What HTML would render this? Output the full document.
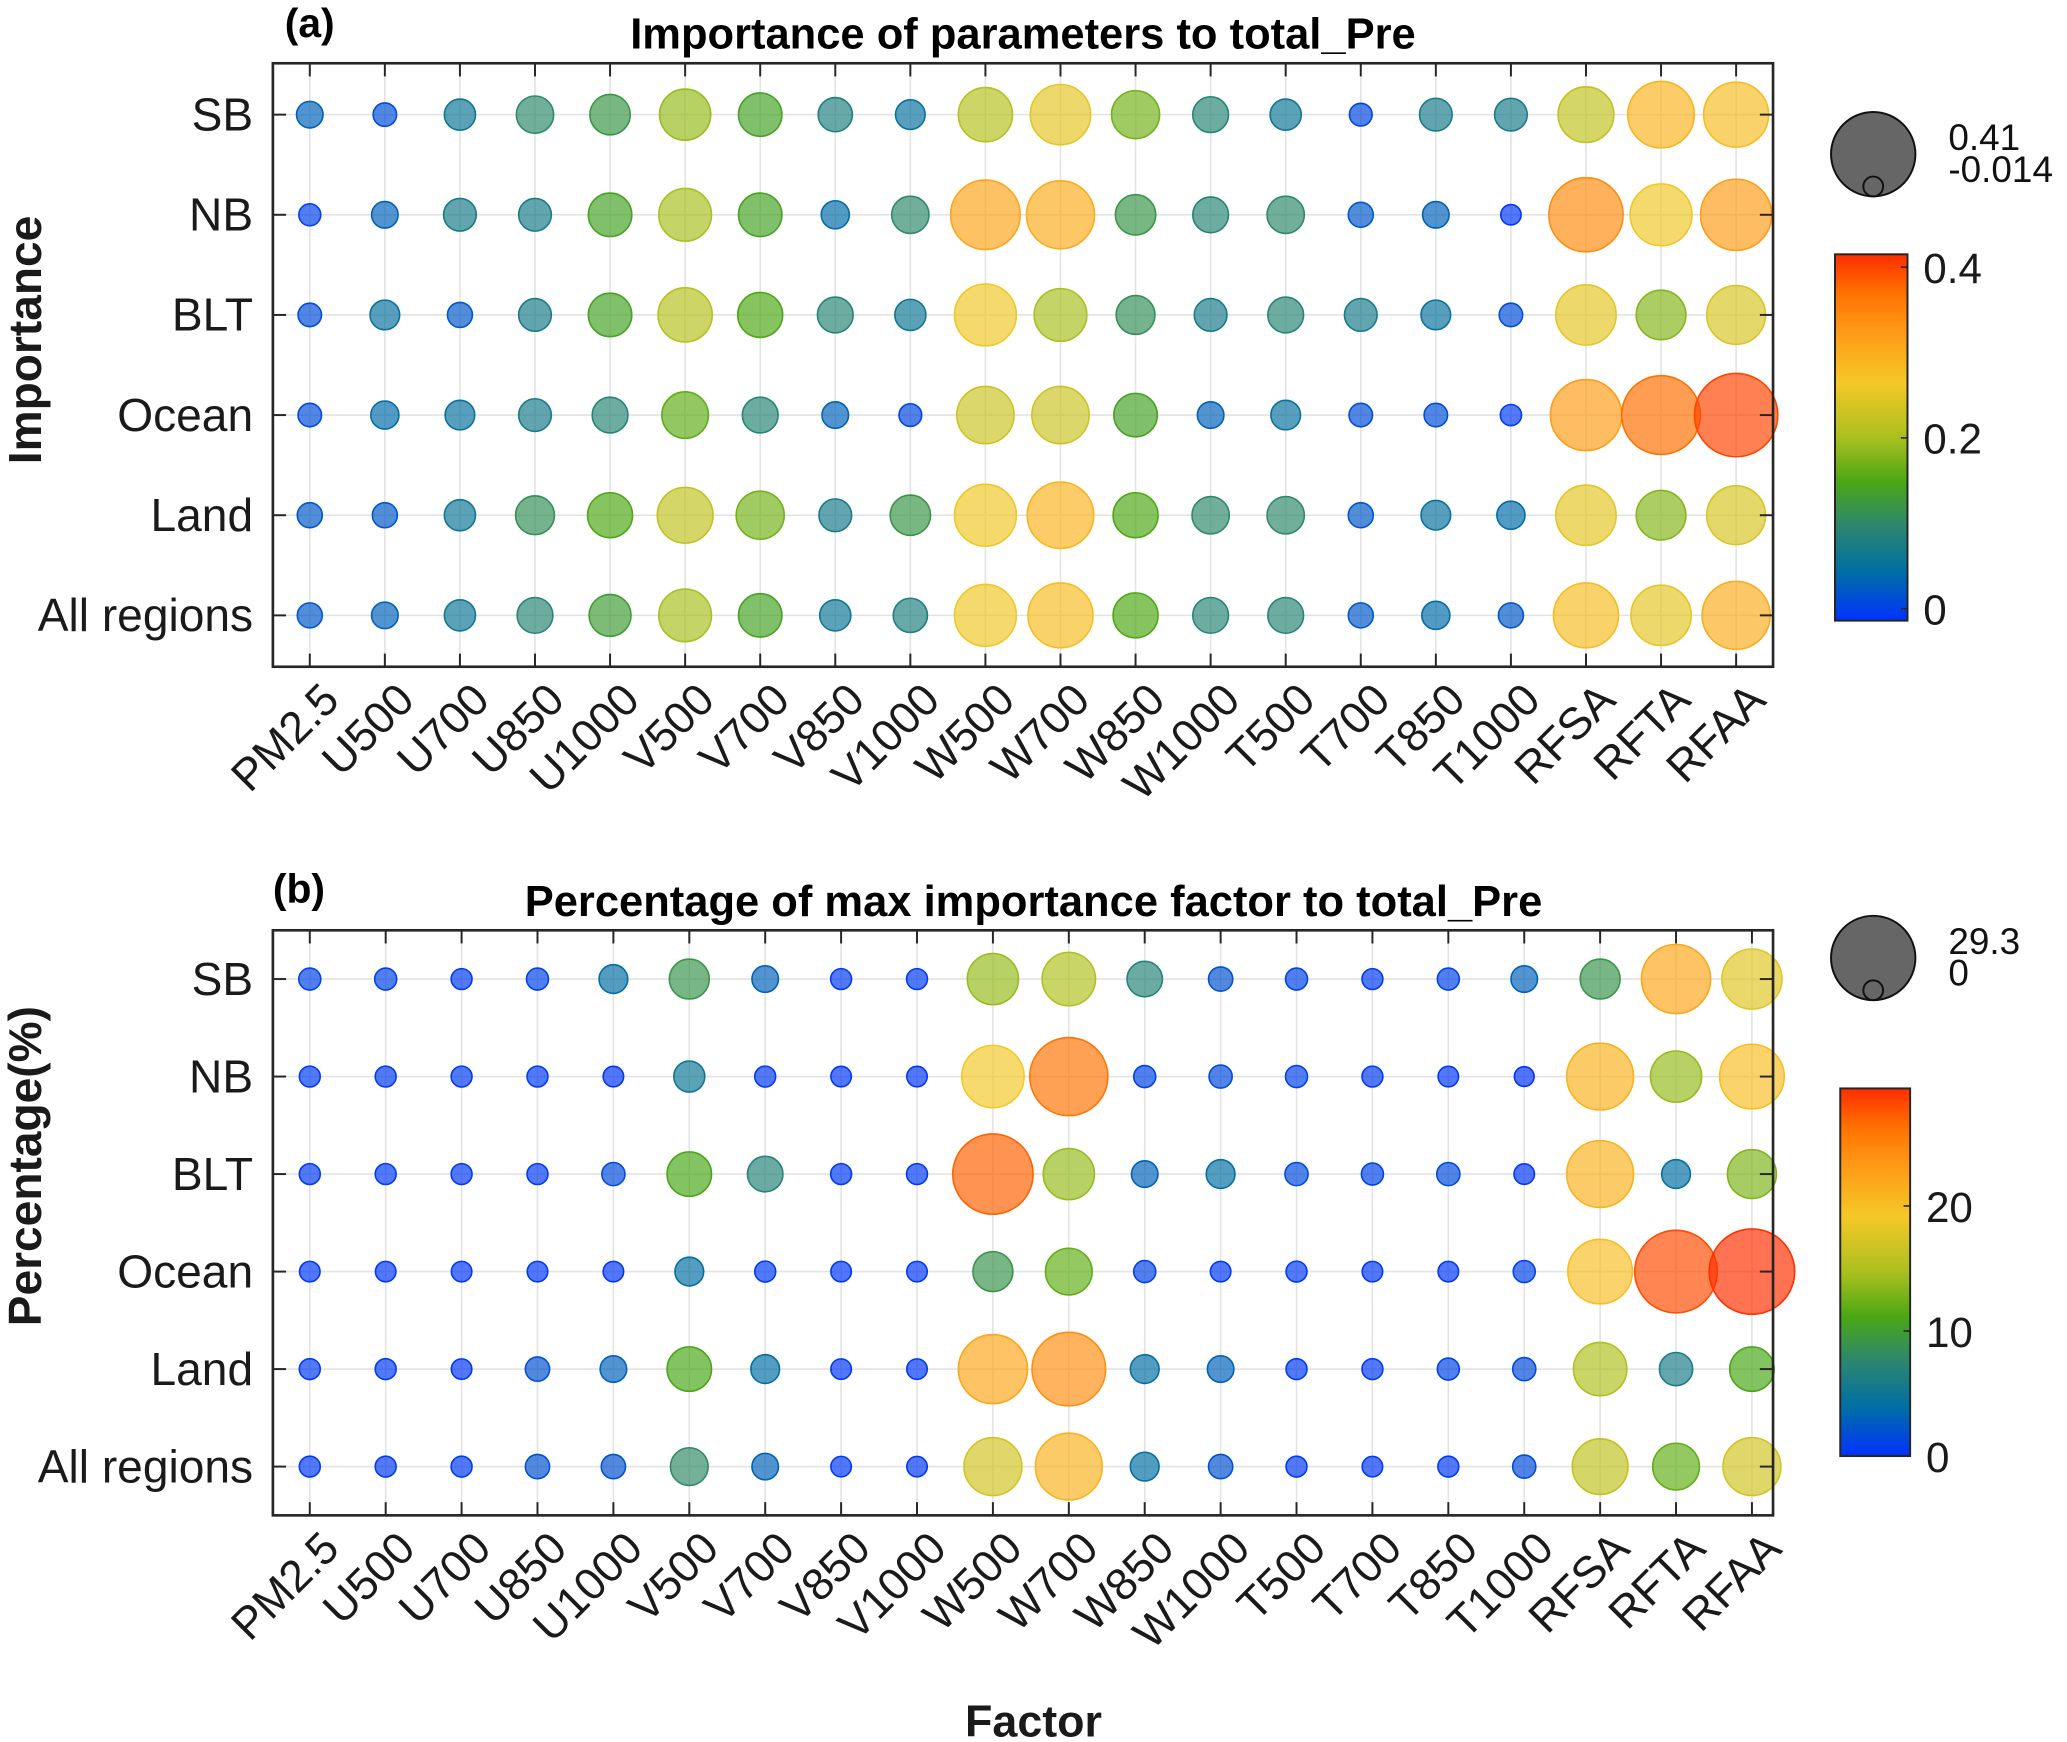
<!DOCTYPE html>
<html><head><meta charset="utf-8"><style>
html,body{margin:0;padding:0;background:#fff;}
svg{display:block;font-family:"Liberation Sans",Arial,sans-serif;}
</style></head><body>
<svg id="fig" width="2067" height="1742" viewBox="0 0 1568 1322" preserveAspectRatio="none" xmlns="http://www.w3.org/2000/svg">
<defs>
<linearGradient id="cmap" x1="0" y1="1" x2="0" y2="0">
<stop offset="0" stop-color="rgb(0,50,255)"/>
<stop offset="0.13" stop-color="rgb(0,110,165)"/>
<stop offset="0.26" stop-color="rgb(45,135,110)"/>
<stop offset="0.38" stop-color="rgb(75,168,20)"/>
<stop offset="0.5" stop-color="rgb(170,192,30)"/>
<stop offset="0.65" stop-color="rgb(245,200,40)"/>
<stop offset="0.8" stop-color="rgb(255,150,20)"/>
<stop offset="0.9" stop-color="rgb(255,110,0)"/>
<stop offset="1" stop-color="rgb(255,45,0)"/>
</linearGradient>
</defs>
</svg>
<script>
const factors=["PM2.5","U500","U700","U850","U1000","V500","V700","V850","V1000","W500","W700","W850","W1000","T500","T700","T850","T1000","RFSA","RFTA","RFAA"];
const regions=["SB","NB","BLT","Ocean","Land","All regions"];
const impSB=[0.03,0.01,0.06,0.1,0.12,0.19,0.14,0.08,0.05,0.21,0.25,0.17,0.09,0.06,0.005,0.07,0.07,0.22,0.29,0.28];
const impNB=[0.0,0.03,0.07,0.07,0.14,0.2,0.14,0.04,0.1,0.31,0.3,0.12,0.09,0.1,0.02,0.03,-0.01,0.34,0.26,0.32];
const impBLT=[0.01,0.05,0.02,0.07,0.14,0.21,0.15,0.09,0.06,0.26,0.2,0.11,0.07,0.09,0.07,0.05,0.01,0.25,0.18,0.24];
const impOcean=[0.01,0.04,0.05,0.07,0.09,0.16,0.09,0.03,0.005,0.23,0.23,0.14,0.03,0.05,0.01,0.01,-0.005,0.32,0.37,0.40];
const impLand=[0.02,0.02,0.06,0.11,0.15,0.22,0.17,0.07,0.12,0.26,0.29,0.15,0.1,0.1,0.02,0.05,0.04,0.25,0.18,0.24];
const impAll=[0.02,0.03,0.06,0.09,0.13,0.2,0.14,0.06,0.08,0.26,0.28,0.15,0.09,0.09,0.02,0.04,0.02,0.28,0.25,0.3];
const pctSB=[1,1,0.5,1,4,9,3,0.5,0.5,14,15,7,2,1,0.5,1,3,9,22,18];
const pctNB=[0.5,0.5,0.5,0.5,0.3,5,0.5,0.3,0.3,19,26,1,1.5,1,0.5,0.3,0,21,14,20];
const pctBLT=[0.5,0.5,0.5,0.5,1.5,11,7,0.5,0.5,27,14,3,4,1.5,1,1.5,0.3,21,4,13];
const pctOcean=[0.3,0.3,0.3,0.3,0.3,4,0.5,0.3,0.3,9,12,1,0.3,0.5,0.3,0.3,1,20,28,29.3];
const pctLand=[0.5,0.5,0.3,2,3,11,4,0.3,0.3,22,24,4,3,0.5,0.5,1,1.5,15,6,11];
const pctAll=[0.5,0.5,0.5,2,2,8,3,0.3,0.3,17,21,4,2,0.5,0.3,0.5,1.5,16,12,17];
const impTicks=[0,0.2,0.4];
const pctTicks=[0,10,20];

const NS="http://www.w3.org/2000/svg";
const svg=document.getElementById('fig');
function mk(tag,attrs,parent){const e=document.createElementNS(NS,tag);for(const k in attrs)e.setAttribute(k,attrs[k]);(parent||svg).appendChild(e);return e;}
const stops=[[0,[0,50,255]],[0.13,[0,110,165]],[0.26,[45,135,110]],[0.38,[75,168,20]],[0.5,[170,192,30]],[0.65,[245,200,40]],[0.8,[255,150,20]],[0.9,[255,110,0]],[1,[255,45,0]]];
function cmap(t){t=Math.max(0,Math.min(1,t));for(let i=1;i<stops.length;i++){if(t<=stops[i][0]){const a=stops[i-1],b=stops[i];const f=(t-a[0])/(b[0]-a[0]);return a[1].map((v,j)=>Math.round(v+(b[1][j]-v)*f));}}return stops[stops.length-1][1];}

function panel(cfg){
  const g=mk('g',{});
  
  
  const {x0,x1,y0,y1,c0,c1,r0,r1,vmin,vmax,data}=cfg;
  const xs=i=>c0+(c1-c0)*i/(factors.length-1);
  const ys=j=>r0+(r1-r0)*j/(regions.length-1);
  const rad=v=>7.5+(v-vmin)/(vmax-vmin)*25;
  factors.forEach((f,i)=>{const l=mk('line',{x1:xs(i),x2:xs(i),y1:y0,y2:y1,stroke:'#e3e3e3','stroke-width':1.2},g);});
  regions.forEach((r,j)=>{const l=mk('line',{x1:x0,x2:x1,y1:ys(j),y2:ys(j),stroke:'#e3e3e3','stroke-width':1.2},g);});
  data.forEach((row,j)=>row.forEach((v,i)=>{
    const c=cmap((v-vmin)/(vmax-vmin));
    const ci=mk('circle',{cx:xs(i),cy:ys(j),r:rad(v),fill:`rgba(${c[0]},${c[1]},${c[2]},0.68)`,stroke:`rgb(${c[0]},${c[1]},${c[2]})`,'stroke-width':1.2},g);
    
    
  }));
  const b=mk('rect',{x:x0,y:y0,width:x1-x0,height:y1-y0,fill:'none',stroke:'#262626','stroke-width':2},g);
  
  factors.forEach((f,i)=>{
    mk('line',{x1:xs(i),x2:xs(i),y1:y1,y2:y1-10,stroke:'#262626','stroke-width':1.5},g);
    mk('line',{x1:xs(i),x2:xs(i),y1:y0,y2:y0+10,stroke:'#262626','stroke-width':1.5},g);
    const t=mk('text',{x:0,y:0,'font-size':34,'text-anchor':'end',fill:'#1a1a1a',transform:`translate(${xs(i)+24},${y1+27}) rotate(-45)`},g);
    t.textContent=f;
  });
  regions.forEach((r,j)=>{
    mk('line',{x1:x0,x2:x0+10,y1:ys(j),y2:ys(j),stroke:'#262626','stroke-width':1.5},g);
    mk('line',{x1:x1,x2:x1-10,y1:ys(j),y2:ys(j),stroke:'#262626','stroke-width':1.5},g);
    const t=mk('text',{x:x0-15,y:ys(j)+12,'font-size':35,'text-anchor':'end',fill:'#1a1a1a'},g);
    t.textContent=r;
  });
  let t=mk('text',{x:cfg.tx,y:cfg.ty,'font-size':33,'font-weight':'bold','text-anchor':'middle',fill:'#000'},g);
  t.textContent=cfg.title;
  t=mk('text',{x:cfg.lx,y:cfg.ly,'font-size':31,'font-weight':'bold',fill:'#000'},g);
  t.textContent=cfg.letter;
  t=mk('text',{x:0,y:0,'font-size':35,'font-weight':'bold','text-anchor':'middle',fill:'#1a1a1a',transform:`translate(31,${cfg.ylc}) rotate(-90)`},g);
  t.textContent=cfg.ylabel;
  const cb=cfg.cb;
  const cr=mk('rect',{x:cb.x,y:cb.y0,width:cb.w,height:cb.y1-cb.y0,fill:'url(#cmap)',stroke:'#262626','stroke-width':1.5},g);
  
  const cy=v=>cb.y1-(v-vmin)/(vmax-vmin)*(cb.y1-cb.y0);
  cfg.ticks.forEach(v=>{
    mk('line',{x1:cb.x+cb.w,x2:cb.x+cb.w-5,y1:cy(v),y2:cy(v),stroke:'#262626','stroke-width':1.2},g);
    const tt=mk('text',{x:cb.x+cb.w+12,y:cy(v)+12,'font-size':32,fill:'#1a1a1a'},g);
    tt.textContent=String(v);
  });
  const sl=cfg.sl;
  let c=mk('circle',{cx:sl.x,cy:sl.y,r:32,fill:'#666',stroke:'#111','stroke-width':1.5},g);
  
  c=mk('circle',{cx:sl.x,cy:sl.y+32-7.5,r:7.5,fill:'#666',stroke:'#111','stroke-width':1.5},g);
  
  t=mk('text',{x:sl.x+57,y:sl.y-3,'font-size':28,fill:'#111'},g);t.textContent=cfg.maxLab;
  t=mk('text',{x:sl.x+57,y:sl.y+21,'font-size':28,fill:'#111'},g);t.textContent=cfg.minLab;
}

panel({name:'panel-a-importance',x0:207,x1:1345,y0:48,y1:506,c0:235,c1:1317,r0:87,r1:467,vmin:-0.014,vmax:0.415,
 data:[impSB,impNB,impBLT,impOcean,impLand,impAll],title:'Importance of parameters to total_Pre',tx:776,ty:37,letter:'(a)',lx:216,ly:28,
 ylabel:'Importance',ylc:258,cb:{x:1392,w:55,y0:193,y1:471},ticks:impTicks,sl:{x:1421,y:117},maxLab:'0.41',minLab:'-0.014'});
panel({name:'panel-b-percentage',x0:207,x1:1345,y0:706,y1:1150,c0:235,c1:1329,r0:743,r1:1113,vmin:0,vmax:29.4,
 data:[pctSB,pctNB,pctBLT,pctOcean,pctLand,pctAll],title:'Percentage of max importance factor to total_Pre',tx:784,ty:695,letter:'(b)',lx:207,ly:685,
 ylabel:'Percentage(%)',ylc:885,cb:{x:1396,w:53,y0:826,y1:1105},ticks:pctTicks,sl:{x:1421,y:727},maxLab:'29.3',minLab:'0'});

const xl=mk('text',{x:784,y:1318,'font-size':34,'font-weight':'bold','text-anchor':'middle',fill:'#1a1a1a'});
xl.textContent='Factor';


</script>
</body></html>
